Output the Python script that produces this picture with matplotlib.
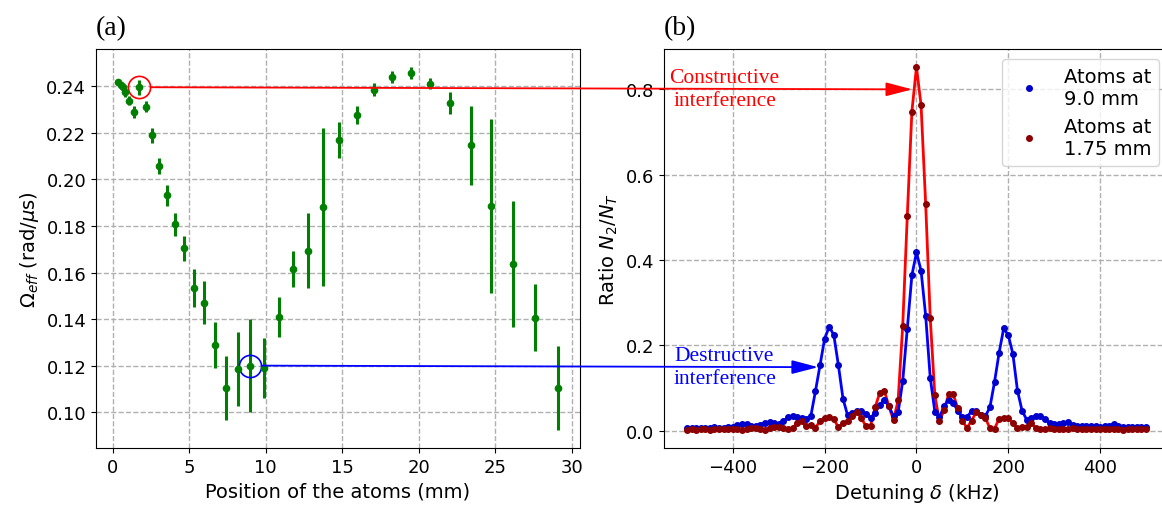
"""Two-panel figure: effective Rabi frequency along the atom positions (a)
and the detuning spectra at a constructive / destructive spot (b).

Writes `out.png`.
"""
from __future__ import annotations

import matplotlib
matplotlib.use("Agg")
import matplotlib.pyplot as plt
import numpy as np
from matplotlib.patches import ConnectionPatch

# --- panel (a): Omega_eff vs position -------------------------------------
POSITION_MM = [0.35, 0.52, 0.67, 0.83, 1.09, 1.39, 1.75, 2.15, 2.56, 3.04,
               3.56, 4.10, 4.69, 5.34, 5.99, 6.69, 7.43, 8.19, 9.00, 9.90,
               10.84, 11.77, 12.75, 13.77, 14.81, 15.94, 17.07, 18.24, 19.46,
               20.72, 22.02, 23.37, 24.73, 26.14, 27.60, 29.08]
OMEGA_EFF = [0.2417, 0.2407, 0.2396, 0.2374, 0.2338, 0.2289, 0.2396, 0.2313,
             0.2190, 0.2056, 0.1932, 0.1807, 0.1704, 0.1533, 0.1471, 0.1290,
             0.1105, 0.1186, 0.1201, 0.1192, 0.1411, 0.1616, 0.1694, 0.1882,
             0.2168, 0.2275, 0.2386, 0.2440, 0.2456, 0.2411, 0.2327, 0.2146,
             0.1886, 0.1637, 0.1407, 0.1105]
OMEGA_ERR = [0.0012, 0.0012, 0.0015, 0.0018, 0.0020, 0.0027, 0.0033, 0.0024,
             0.0032, 0.0034, 0.0044, 0.0048, 0.0055, 0.0082, 0.0093, 0.0100,
             0.0138, 0.0158, 0.0200, 0.0128, 0.0086, 0.0077, 0.0160, 0.0340,
             0.0078, 0.0039, 0.0026, 0.0025, 0.0026, 0.0024, 0.0048, 0.0168,
             0.0375, 0.0270, 0.0143, 0.0180]

# positions picked out for the spectra
POS_CONSTRUCTIVE = 1.75
POS_DESTRUCTIVE = 9.0

# --- panel (b): N2/NT vs detuning -----------------------------------------
DETUNING_KHZ = np.arange(-500, 510, 10)
RATIO_9MM = [
    0.006, 0.007, 0.006, 0.007, 0.007, 0.006, 0.008, 0.007, 0.007, 0.008, 0.008,
    0.013, 0.016, 0.015, 0.012, 0.010, 0.014, 0.019, 0.020, 0.017, 0.016,
    0.022, 0.032, 0.034, 0.033, 0.029, 0.027, 0.035, 0.093, 0.154, 0.216,
    0.244, 0.224, 0.153, 0.075, 0.036, 0.041, 0.046, 0.047, 0.039, 0.030,
    0.042, 0.061, 0.072, 0.057, 0.034, 0.043, 0.116, 0.239, 0.364, 0.418,
    0.375, 0.270, 0.124, 0.045, 0.032, 0.057, 0.073, 0.065, 0.047, 0.032,
    0.032, 0.046, 0.047, 0.038, 0.034, 0.055, 0.114, 0.183, 0.240, 0.224,
    0.180, 0.094, 0.047, 0.026, 0.030, 0.035, 0.035, 0.027, 0.018, 0.016,
    0.016, 0.018, 0.020, 0.014, 0.012, 0.011, 0.010, 0.010, 0.010, 0.009,
    0.010, 0.012, 0.016, 0.010, 0.009, 0.008, 0.009, 0.008, 0.008, 0.008,
]
RATIO_175MM = [
    0.002, 0.003, 0.002, 0.003, 0.003, 0.002, 0.003, 0.004, 0.003, 0.004, 0.003,
    0.005, 0.002, 0.004, 0.006, 0.006, 0.004, 0.002, 0.006, 0.008, 0.009,
    0.006, 0.005, 0.006, 0.018, 0.022, 0.010, 0.013, 0.006, 0.024, 0.030,
    0.032, 0.027, 0.008, 0.018, 0.022, 0.035, 0.044, 0.030, 0.010, 0.012,
    0.055, 0.089, 0.094, 0.057, 0.025, 0.071, 0.245, 0.503, 0.748, 0.852,
    0.763, 0.532, 0.264, 0.083, 0.022, 0.048, 0.085, 0.085, 0.053, 0.024,
    0.006, 0.024, 0.043, 0.038, 0.030, 0.006, 0.005, 0.028, 0.031, 0.030,
    0.018, 0.006, 0.008, 0.008, 0.018, 0.006, 0.004, 0.005, 0.006, 0.004,
    0.003, 0.005, 0.004, 0.006, 0.005, 0.003, 0.004, 0.003, 0.004, 0.005,
    0.004, 0.003, 0.005, 0.003, 0.002, 0.004, 0.003, 0.004, 0.003, 0.003,
]

# where the arrows land on the spectra
ARROW_TIP_CONSTRUCTIVE = (-9, 0.80)
ARROW_TIP_DESTRUCTIVE = (-214, 0.149)
LABEL_X_KHZ = -418

SERIF = "Liberation Serif"
GRID = dict(color="#b0b0b0", linestyle="--", linewidth=1.0)


def style_axes(ax):
    ax.grid(True, **GRID)
    ax.set_axisbelow(True)
    ax.tick_params(labelsize=13)


def main() -> None:
    fig = plt.figure(figsize=(11.62, 5.06), dpi=100)
    ax_a = fig.add_axes([0.0826, 0.1126, 0.4165, 0.7885])
    ax_b = fig.add_axes([0.5714, 0.1126, 0.4346, 0.7885])

    # (a) Omega_eff along the cell
    ax_a.errorbar(POSITION_MM, OMEGA_EFF, yerr=OMEGA_ERR, fmt="o", color="green",
                  ms=4.5, elinewidth=2.2, capsize=0)
    i_c = POSITION_MM.index(POS_CONSTRUCTIVE)
    i_d = POSITION_MM.index(POS_DESTRUCTIVE)
    ax_a.plot(POS_CONSTRUCTIVE, OMEGA_EFF[i_c], "o", ms=16, mfc="none",
              mec="red", mew=1.2)
    ax_a.plot(POS_DESTRUCTIVE, OMEGA_EFF[i_d], "o", ms=16, mfc="none",
              mec="blue", mew=1.2)
    ax_a.set_xticks([0, 5, 10, 15, 20, 25, 30])
    ax_a.set_yticks(np.arange(0.10, 0.241, 0.02))
    ax_a.set_xlabel("Position of the atoms (mm)", fontsize=14)
    ax_a.set_ylabel(r"$\Omega_{eff}$ (rad/$\mu$s)", fontsize=14)
    ax_a.set_title("(a)", loc="left", fontsize=20, family=SERIF, pad=11)
    style_axes(ax_a)

    # (b) spectra
    ax_b.plot(DETUNING_KHZ, RATIO_175MM, "-", color="red", lw=2)
    ax_b.plot(DETUNING_KHZ, RATIO_9MM, "-", color="blue", lw=2)
    ax_b.plot(DETUNING_KHZ, RATIO_9MM, "o", color="mediumblue", ms=4,
              label="Atoms at\n9.0 mm")
    ax_b.plot(DETUNING_KHZ, RATIO_175MM, "o", color="darkred", ms=4,
              label="Atoms at\n1.75 mm")
    ax_b.set_xticks([-400, -200, 0, 200, 400])
    ax_b.set_yticks([0.0, 0.2, 0.4, 0.6, 0.8])
    ax_b.set_xlabel(r"Detuning $\delta$ (kHz)", fontsize=14)
    ax_b.set_ylabel(r"Ratio $N_2/N_T$", fontsize=14)
    ax_b.set_title("(b)", loc="left", fontsize=20, family=SERIF, pad=11)
    ax_b.spines["right"].set_visible(False)
    style_axes(ax_b)
    ax_b.legend(loc="upper right", fontsize=14, markerscale=1.0,
                handletextpad=0.8, borderpad=0.4)

    ax_b.text(LABEL_X_KHZ, ARROW_TIP_CONSTRUCTIVE[1],
              "Constructive\ninterference", color="red", fontsize=15.5,
              family=SERIF, ha="center", va="center", linespacing=1.3)
    ax_b.text(LABEL_X_KHZ, ARROW_TIP_DESTRUCTIVE[1],
              "Destructive\ninterference", color="blue", fontsize=15.5,
              family=SERIF, ha="center", va="center", linespacing=1.3)

    # arrows linking the circled points to their spectra
    for pos, i, tip, col in [(POS_CONSTRUCTIVE, i_c, ARROW_TIP_CONSTRUCTIVE, "red"),
                             (POS_DESTRUCTIVE, i_d, ARROW_TIP_DESTRUCTIVE, "blue")]:
        con = ConnectionPatch(
            xyA=(pos, OMEGA_EFF[i]), coordsA=ax_a.transData,
            xyB=tip, coordsB=ax_b.transData,
            arrowstyle="-|>,head_length=1.15,head_width=0.3",
            mutation_scale=14, shrinkA=8, shrinkB=0,
            color=col, lw=1.3, zorder=5,
        )
        fig.add_artist(con)

    fig.savefig("out.png", dpi=100, facecolor="white")
    plt.close(fig)


if __name__ == "__main__":
    main()
